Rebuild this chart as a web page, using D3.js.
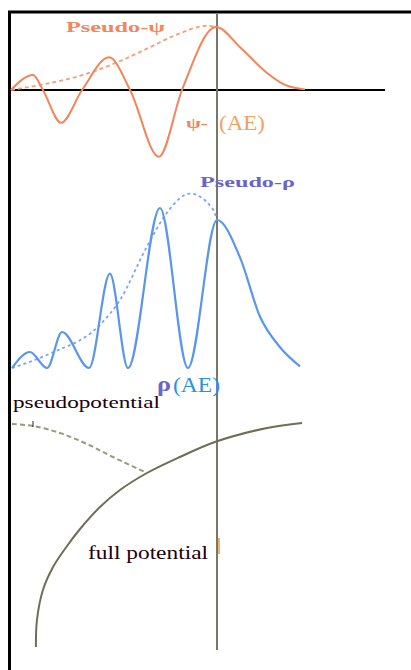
<!DOCTYPE html>
<html>
<head>
<meta charset="utf-8">
<script src="https://cdn.jsdelivr.net/npm/d3@7"></script>
<style>
  html, body { margin: 0; padding: 0; background: #fff; }
  svg { display: block; }
</style>
</head>
<body>
<div id="chart"></div>
<script>
// r measured in units of the cutoff radius r_c
const psiAE = [
  [0, 0], [0.107, 0.24], [0.155, 0], [0.243, -0.52], [0.345, 0],
  [0.476, 0.52], [0.578, 0], [0.718, -1.06], [0.83, 0], [0.995, 1.0],
  [1.112, 0.68], [1.243, 0.27], [1.33, 0.08], [1.427, 0.01]
];
const psiPseudo = [
  [0, 0], [0.141, 0.08], [0.35, 0.24], [0.544, 0.48], [0.675, 0.68],
  [0.82, 0.9], [0.951, 1.02], [0.995, 1.0]
];
const rhoAE = [
  [0.005, 0], [0.092, 0.1], [0.175, 0], [0.248, 0.225], [0.379, 0],
  [0.48, 0.59], [0.568, 0], [0.723, 1.0], [0.859, 0], [1.0, 0.925],
  [1.112, 0.69], [1.209, 0.32], [1.306, 0.13], [1.403, 0.01]
];
const rhoPseudo = [
  [0.005, 0], [0.189, 0.09], [0.432, 0.27], [0.529, 0.425], [0.66, 0.76],
  [0.757, 0.97], [0.869, 1.09], [0.981, 0.99], [1.0, 0.925]
];
const vFull = [
  [0.121, -2.24], [0.126, -1.97], [0.155, -1.67], [0.204, -1.44], [0.272, -1.23],
  [0.335, -1.06], [0.432, -0.84], [0.529, -0.67], [0.66, -0.5], [0.82, -0.34],
  [0.99, -0.19], [1.243, -0.05], [1.413, 0]
];
const vPseudo = [
  [0.005, -0.01], [0.107, -0.03], [0.238, -0.1], [0.369, -0.21], [0.495, -0.34],
  [0.66, -0.5]
];

const W = 411, H = 670;
const svg = d3.select("#chart").append("svg").attr("width", W).attr("height", H);

const x = d3.scaleLinear().domain([0, 1]).range([11, 217]);
const yPsi = d3.scaleLinear().domain([0, 1]).range([90, 27]);
const yRho = d3.scaleLinear().domain([0, 1]).range([368, 208]);
const yV = d3.scaleLinear().domain([0, -1]).range([423, 523]);

const lineOf = (ys, curve) => d3.line().x((d) => x(d[0])).y((d) => ys(d[1]))
  .curve(curve || d3.curveMonotoneX);

// frame
svg.append("line").attr("x1", 8).attr("x2", W).attr("y1", 12).attr("y2", 12)
  .attr("stroke", "#000").attr("stroke-width", 3);
svg.append("line").attr("x1", 9.5).attr("x2", 9.5).attr("y1", 11).attr("y2", H)
  .attr("stroke", "#000").attr("stroke-width", 3);

// psi axis and r_c line
svg.append("line").attr("x1", 10).attr("x2", 385).attr("y1", yPsi(0)).attr("y2", yPsi(0))
  .attr("stroke", "#000").attr("stroke-width", 2);
svg.append("line").attr("x1", x(1)).attr("x2", x(1)).attr("y1", 14).attr("y2", 650)
  .attr("stroke", "#77776a").attr("stroke-width", 2);

// wavefunctions
svg.append("path").datum(psiPseudo).attr("d", lineOf(yPsi))
  .attr("fill", "none").attr("stroke", "#f6a078").attr("stroke-width", 1.8)
  .attr("stroke-dasharray", "4,3");
svg.append("path").datum(psiAE).attr("d", lineOf(yPsi))
  .attr("fill", "none").attr("stroke", "#f4845a").attr("stroke-width", 2);

// densities
svg.append("path").datum(rhoPseudo).attr("d", lineOf(yRho))
  .attr("fill", "none").attr("stroke", "#7aa8f0").attr("stroke-width", 1.8)
  .attr("stroke-dasharray", "3,3");
svg.append("path").datum(rhoAE).attr("d", lineOf(yRho))
  .attr("fill", "none").attr("stroke", "#5a96ec").attr("stroke-width", 2.2);

// potentials
svg.append("path").datum(vPseudo).attr("d", lineOf(yV, d3.curveCatmullRom))
  .attr("fill", "none").attr("stroke", "#9a9a82").attr("stroke-width", 2)
  .attr("stroke-dasharray", "5,3");
svg.append("path").datum(vFull).attr("d", lineOf(yV, d3.curveCatmullRom))
  .attr("fill", "none").attr("stroke", "#6e6e56").attr("stroke-width", 2);

// small marks
svg.append("line").attr("x1", 219).attr("x2", 219).attr("y1", 538).attr("y2", 554)
  .attr("stroke", "#e0a030").attr("stroke-width", 1.5);
svg.append("line").attr("x1", 33).attr("x2", 33).attr("y1", 421).attr("y2", 427)
  .attr("stroke", "#222").attr("stroke-width", 1);

// labels
const serif = "'Liberation Serif', 'DejaVu Serif', serif";
const label = (tx, ty, text, size, color, weight, len) => {
  const t = svg.append("text").attr("x", tx).attr("y", ty).text(text)
    .attr("font-family", serif).attr("font-size", size)
    .attr("font-weight", weight || "normal").attr("fill", color);
  if (len) t.attr("textLength", len).attr("lengthAdjust", "spacingAndGlyphs");
  return t;
};

label(66, 32, "Pseudo-ψ", 14, "#f4845a", "bold", 99);
label(186, 128, "ψ-", 14, "#f4845a", "bold", 22);
label(219, 130, "(AE)", 21, "#f4a060", "normal", 46);
label(200, 187, "Pseudo-ρ", 14, "#6a64c8", "bold", 95);
label(157, 391, "ρ", 20, "#6a64c8", "bold", 14);
label(173, 392, "(AE)", 22, "#2a90e0", "normal", 47);
label(13, 408, "pseudopotential", 17, "#200010", "normal", 147);
label(88, 559, "full potential", 19, "#200010", "normal", 120);
</script>
</body>
</html>
